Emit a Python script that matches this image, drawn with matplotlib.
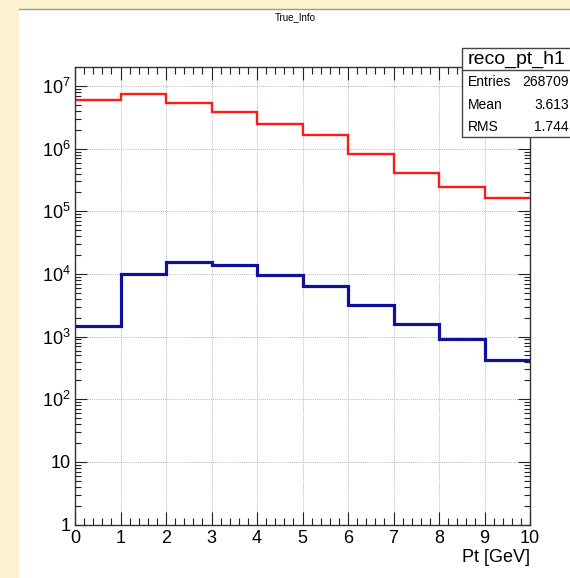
import numpy as np
import matplotlib
matplotlib.use("Agg")
import matplotlib.pyplot as plt
from matplotlib.patches import Rectangle
from matplotlib.lines import Line2D
from matplotlib.ticker import FixedLocator, MultipleLocator, LogLocator, NullFormatter

plt.rcParams['font.family'] = ['Liberation Sans', 'DejaVu Sans']
plt.rcParams['mathtext.fontset'] = 'custom'
plt.rcParams['mathtext.rm'] = 'Liberation Sans'
plt.rcParams['mathtext.it'] = 'Liberation Sans:italic'

# histogram contents (10 bins, 0-10 GeV)
bin_edges = [0, 1, 2, 3, 4, 5, 6, 7, 8, 9, 10]
true_counts = [5.96e6, 7.35e6, 5.47e6, 3.83e6, 2.52e6, 1.68e6, 8.3e5, 4.12e5, 2.48e5, 1.63e5]
reco_counts = [1.47e3, 9.9e3, 1.56e4, 1.39e4, 9.8e3, 6.37e3, 3.17e3, 1.6e3, 9.3e2, 4.25e2]

y_tick_vals = [1, 10, 1e2, 1e3, 1e4, 1e5, 1e6, 1e7]
y_tick_labels = ['1', '10', '$10^{2}$', '$10^{3}$', '$10^{4}$', '$10^{5}$', '$10^{6}$', '$10^{7}$']

stat_names = ['Entries', 'Mean', 'RMS']
stat_values = ['268709', '3.613', '1.744']

W, H = 570, 578
fig = plt.figure(figsize=(W / 100, H / 100), dpi=100)
fig.patch.set_facecolor('#fdf1cf')

# white canvas with grey top border
fig.patches.append(Rectangle((19 / W, 0), 1, 1 - 9 / H, transform=fig.transFigure,
                             facecolor='white', edgecolor='none', zorder=-10))
fig.lines.append(Line2D([19 / W, 1], [1 - 9 / H, 1 - 9 / H], transform=fig.transFigure,
                        color='#999999', lw=1, zorder=-9))

ax = fig.add_axes([75 / W, 1 - 524.5 / H, (530 - 75) / W, (524.5 - 66.7) / H])
ax.set_facecolor('white')

ax.stairs(true_counts, bin_edges, baseline=None, color='#ff1a1a', lw=1.7)
ax.stairs(reco_counts, bin_edges, baseline=None, color='#10109a', lw=2.3)

ax.set_yscale('log')
ax.set_xlim(0, 10)
ax.set_ylim(1, 2.04e7)

ax.xaxis.set_major_locator(MultipleLocator(1))
ax.xaxis.set_minor_locator(MultipleLocator(0.2))
ax.yaxis.set_major_locator(FixedLocator(y_tick_vals))
ax.set_yticklabels(y_tick_labels)
ax.yaxis.set_minor_locator(LogLocator(base=10, subs=np.arange(2, 10)))
ax.yaxis.set_minor_formatter(NullFormatter())

ax.tick_params(which='both', direction='in', top=True, right=True, colors='#222222',
               labelsize=13)
ax.tick_params(axis='x', which='major', length=9.4, width=0.8, pad=4)
ax.tick_params(axis='x', which='minor', length=4.7, width=0.8)
ax.tick_params(axis='y', which='major', length=8.6, width=0.8, pad=3)
ax.tick_params(axis='y', which='minor', length=4.3, width=0.8)
for lab in ax.get_xticklabels() + ax.get_yticklabels():
    lab.set_color('black')

for s in ax.spines.values():
    s.set_color('#333333')
    s.set_linewidth(1.0)

ax.grid(True, which='major', linestyle=(0, (1, 1.5)), color='#a0a0a0', lw=0.6)
ax.set_axisbelow(True)

fig.text(530 / W, 1 - 557 / H, 'Pt [GeV]', ha='right', va='center', fontsize=13)
fig.text(295 / W, 1 - 17 / H, 'True_Info', ha='center', va='center', fontsize=7)

# stats box
bx0, by_top, by_bot, by_sep = 462, 48, 137, 70
fig.patches.append(Rectangle((bx0 / W, 1 - by_bot / H), (W + 10 - bx0) / W, (by_bot - by_top) / H,
                             transform=fig.transFigure, facecolor='white',
                             edgecolor='#444444', lw=1, zorder=5))
fig.lines.append(Line2D([bx0 / W, 1], [1 - by_sep / H, 1 - by_sep / H],
                        transform=fig.transFigure, color='#444444', lw=1, zorder=6))
fig.text(517 / W, 1 - 59 / H, 'reco_pt_h1', ha='center', va='center', fontsize=14, zorder=7)
row_y = [81.5, 105, 127]
for name, val, yy in zip(stat_names, stat_values, row_y):
    fig.text(468 / W, 1 - yy / H, name, ha='left', va='center', fontsize=10, zorder=7)
    fig.text(569 / W, 1 - yy / H, val, ha='right', va='center', fontsize=10, zorder=7)

fig.savefig('out.png', dpi=100, facecolor=fig.get_facecolor())
